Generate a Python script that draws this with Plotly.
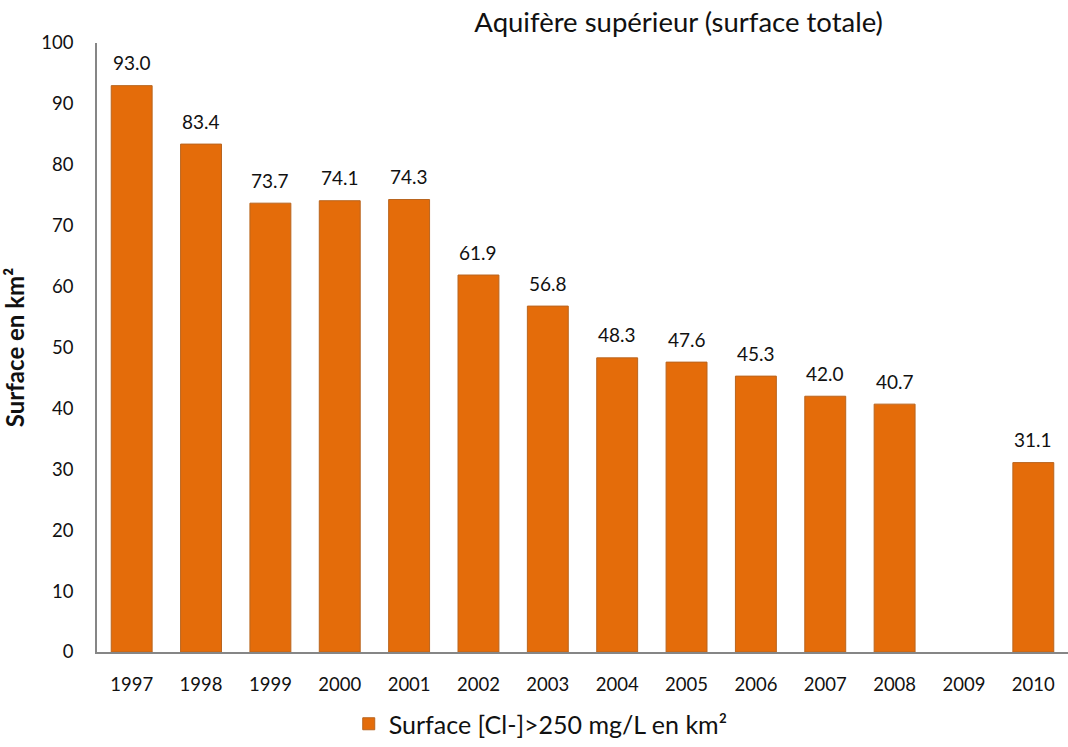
import plotly.graph_objects as go

years = ["1997", "1998", "1999", "2000", "2001", "2002", "2003", "2004",
         "2005", "2006", "2007", "2008", "2009", "2010"]
values = [93.0, 83.4, 73.7, 74.1, 74.3, 61.9, 56.8, 48.3, 47.6, 45.3, 42.0, 40.7, None, 31.1]
y_ticks = [0, 10, 20, 30, 40, 50, 60, 70, 80, 90, 100]

FONT = "Lato"
TXT = "#111111"

fig = go.Figure()
fig.add_trace(go.Bar(
    x=years, y=values,
    name="Surface [Cl-]>250 mg/L en km²",
    marker=dict(color="#E46C0A", line=dict(color="#B9651F", width=1)),
))

for i, v in enumerate(values):
    if v is None:
        continue
    fig.add_annotation(x=i, y=v, text=f"{v:.1f}", showarrow=False,
                       yanchor="middle", yshift=23,
                       font=dict(family=FONT, size=19, color=TXT))

fig.update_layout(
    width=1068, height=747,
    margin=dict(l=97, r=0, t=43, b=88),
    paper_bgcolor="white", plot_bgcolor="white",
    bargap=0.41,
    title=dict(text="Aquifère supérieur (surface totale)", x=0.599, xanchor="center", xref="paper",
               y=0.9705, yanchor="middle", font=dict(family=FONT, size=27.5, color=TXT)),
    showlegend=True,
    legend=dict(orientation="h", x=0.457, xanchor="center", y=-0.1185, yanchor="middle",
                font=dict(family=FONT, size=25, color=TXT)),
    font=dict(family=FONT, color=TXT),
)
fig.update_xaxes(type="category", range=[-0.5, len(years) - 0.5], showline=True,
                 linecolor="#868686", linewidth=1.5, showgrid=False,
                 ticks="", ticklabelstandoff=15, tickfont=dict(family=FONT, size=18.5, color=TXT))
fig.update_yaxes(range=[0, 100], tickvals=y_ticks, showline=True, linecolor="#868686", linewidth=1.5,
                 showgrid=False, zeroline=False, ticks="", ticklabelstandoff=18,
                 tickfont=dict(family=FONT, size=18.5, color=TXT),
                 title=dict(text="<b>Surface en km²</b>", standoff=12,
                            font=dict(family=FONT, size=24, color=TXT)))

fig.write_html("out.html")
